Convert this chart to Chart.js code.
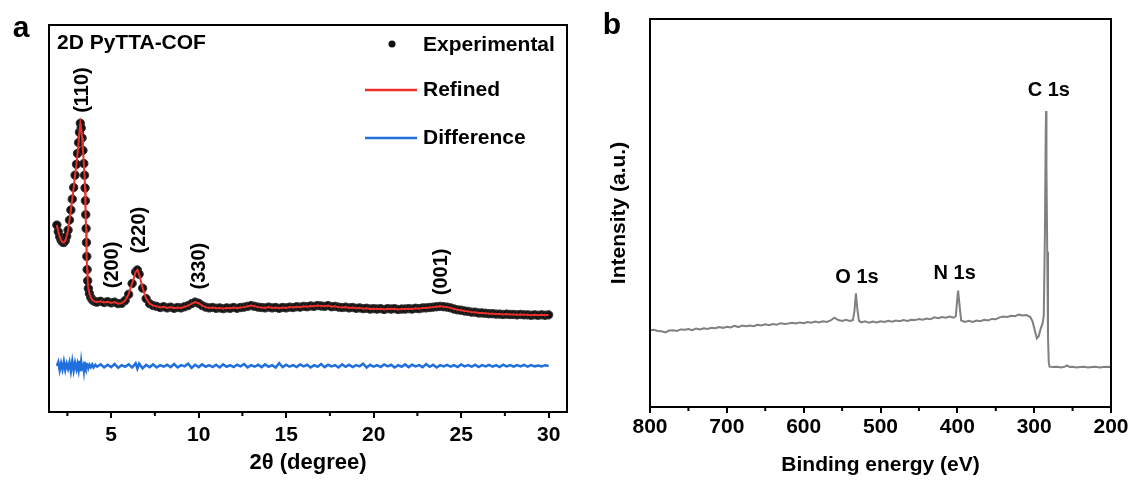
<!DOCTYPE html>
<html>
<head>
<meta charset="utf-8">
<title>2D PyTTA-COF: PXRD and XPS survey</title>
<script src="https://cdn.jsdelivr.net/npm/chart.js@4.4.1/dist/chart.umd.min.js"></script>
<style>
  html, body { margin: 0; padding: 0; background: #fff; }
  #wrap { position: relative; width: 1132px; height: 480px; }
  canvas { position: absolute; top: 0; }
  #xrd { left: 0; }
  #xps { left: 580px; }
</style>
</head>
<body>
<div id="wrap">
  <canvas id="xrd" width="580" height="480"></canvas>
  <canvas id="xps" width="552" height="480"></canvas>
</div>
<script>
// ---------- panel a: PXRD (2θ in degrees, intensity in a.u.) ----------
const xrdAngle = [
  1.90, 1.98, 2.06, 2.14, 2.22, 2.30, 2.38, 2.46, 2.54, 2.62,
  2.70, 2.78, 2.86, 2.94, 3.02, 3.08, 3.14, 3.19, 3.24, 3.29,
  3.34, 3.39, 3.44, 3.48, 3.51, 3.53, 3.55, 3.57, 3.59, 3.61,
  3.63, 3.66, 3.70, 3.76, 3.84, 3.92, 4.00, 4.10, 4.20,
  4.4, 4.6, 4.8, 5.0, 5.2, 5.4, 5.6, 5.8, 6.0, 6.2, 6.4, 6.5, 6.6,
  6.8, 7.0, 7.2, 7.4, 7.6, 7.8, 8.0, 8.2, 8.4, 8.6,
  8.8, 9.0, 9.2, 9.4, 9.6, 9.8, 10.0, 10.2, 10.4, 10.6,
  10.8, 11.0, 11.2, 11.4, 11.6, 11.8, 12.0, 12.2, 12.4, 12.6,
  12.8, 13.0, 13.2, 13.4, 13.6, 13.8, 14.0, 14.2, 14.4, 14.6,
  14.8, 15.0, 15.2, 15.4, 15.6, 15.8, 16.0, 16.2, 16.4, 16.6,
  16.8, 17.0, 17.2, 17.4, 17.6, 17.8, 18.0, 18.2, 18.4, 18.6,
  18.8, 19.0, 19.2, 19.4, 19.6, 19.8, 20.0, 20.2, 20.4, 20.6,
  20.8, 21.0, 21.2, 21.4, 21.6, 21.8, 22.0, 22.2, 22.4, 22.6,
  22.8, 23.0, 23.2, 23.4, 23.6, 23.8, 24.0, 24.2, 24.4, 24.6,
  24.8, 25.0, 25.2, 25.4, 25.6, 25.8, 26.0, 26.2, 26.4, 26.6,
  26.8, 27.0, 27.2, 27.4, 27.6, 27.8, 28.0, 28.2, 28.4, 28.6,
  28.8, 29.0, 29.2, 29.4, 29.6, 29.8, 30.0
];
const xrdIntensity = [
  48.3, 46.6, 45.3, 44.4, 43.9, 43.8, 44.3, 45.4, 47.0, 49.6,
  52.2, 55.0, 58.0, 61.2, 64.0, 66.8, 69.6, 72.3, 74.6, 73.4,
  70.8, 67.6, 64.2, 61.2, 57.9, 54.6, 51.0, 47.4, 43.8, 40.2,
  36.8, 33.9, 31.9, 30.6, 29.6, 29.0, 28.7, 28.5, 28.4,
  28.6, 28.3, 28.5, 28.2, 28.4, 28.0, 28.1, 28.8, 30.4, 33.2, 36.2, 36.7, 35.6,
  32.0, 29.3, 28.0, 27.5, 27.3, 27.0, 27.2, 26.9, 27.1, 26.8,
  27.0, 26.9, 27.2, 27.5, 28.0, 28.4, 28.1, 27.5, 27.1, 26.9,
  27.0, 26.8, 26.9, 26.7, 26.9, 26.8, 27.0, 26.8, 27.0, 27.1,
  27.3, 27.5, 27.3, 27.1, 27.0, 26.9, 27.1, 26.9, 27.0, 26.8,
  27.0, 26.9, 27.1, 27.0, 27.2, 27.1, 27.3, 27.2, 27.4, 27.3,
  27.5, 27.4, 27.3, 27.5, 27.2, 27.3, 27.1, 27.0, 27.1, 26.9,
  27.0, 26.8, 26.9, 26.7, 26.8, 26.6, 26.7, 26.6, 26.7, 26.5,
  26.7, 26.6, 26.7, 26.5, 26.6, 26.6, 26.7, 26.6, 26.8, 26.7,
  26.9, 26.9, 27.0, 27.1, 27.2, 27.3, 27.2, 27.1, 26.9, 26.6,
  26.4, 26.3, 26.1, 26.0, 25.8, 25.8, 25.6, 25.6, 25.5, 25.4,
  25.4, 25.3, 25.3, 25.2, 25.3, 25.2, 25.2, 25.1, 25.2, 25.1,
  25.1, 25.0, 25.1, 25.0, 25.1, 25.0, 25.1
];
// residual (observed - refined), offset below the pattern
const xrdDiff = [
  11.9, 12.9, 10.8, 12.6, 11.0, 13.0, 10.9, 12.5, 11.2, 12.8,
  10.6, 13.1, 10.7, 12.7, 11.1, 12.4, 10.9, 13.2, 10.5, 12.9,
  11.0, 12.6, 10.8, 13.0, 11.2, 12.5, 10.9, 12.7, 11.3, 12.3,
  11.5, 12.4, 11.4, 12.2, 11.6, 12.3, 11.5, 12.2, 11.7,
  12.3, 11.5, 12.2, 11.6, 12.4, 11.4, 12.1, 11.7, 12.3, 11.5, 12.6, 11.2, 12.5,
  11.3, 12.2, 11.6, 12.3, 11.5, 12.1, 11.7, 12.2, 11.6, 12.4,
  11.5, 12.1, 11.8, 12.5, 11.4, 12.2, 11.6, 12.3, 11.7, 12.1,
  11.6, 12.2, 11.5, 12.3, 11.7, 12.1, 11.6, 12.2, 11.8, 12.4,
  11.5, 12.1, 11.7, 12.2, 11.6, 12.3, 11.7, 12.1, 11.5, 12.6,
  11.6, 12.2, 11.7, 12.1, 11.6, 12.3, 11.8, 12.2, 11.5, 12.1,
  11.7, 12.4, 11.6, 12.2, 11.8, 12.1, 11.5, 12.3, 11.7, 12.2,
  11.6, 12.1, 11.8, 12.5, 11.5, 12.2, 11.7, 12.1, 11.6, 12.3,
  11.8, 12.2, 11.5, 12.1, 11.7, 12.3, 11.6, 12.2, 11.8, 12.1,
  11.6, 12.4, 11.7, 12.2, 11.5, 12.1, 11.8, 12.2, 11.7, 12.1,
  11.6, 12.3, 11.8, 12.1, 11.7, 12.2, 11.6, 12.1, 11.8, 12.2,
  11.7, 12.1, 11.6, 12.2, 11.8, 12.1, 11.7, 12.1, 11.8, 12.2,
  11.7, 12.1, 11.8, 12.0, 11.8, 12.1, 11.9
];
const xrdTicks = [5, 10, 15, 20, 25, 30];
const xrdMinorTicks = [2.5, 7.5, 12.5, 17.5, 22.5, 27.5];
const xrdPeakLabels = ["(110)", "(200)", "(220)", "(330)", "(001)"];
const xrdPeakAt = [3.34, 5.06, 6.6, 10.03, 23.9];
const xrdPeakHeight = [83.2, 38.0, 47.0, 37.7, 36.2];

// ---------- panel b: XPS survey (binding energy in eV) ----------
const xpsEnergy = [
  800, 795, 790, 785, 780, 775, 770, 765, 760, 755,
  750, 745, 740, 735, 730, 725, 720, 715, 710, 705,
  700, 695, 690, 685, 680, 675, 670, 665, 660, 655,
  650, 645, 640, 635, 630, 625, 620, 615, 610, 605,
  600, 595, 590, 585, 580, 575, 570, 565, 560, 555,
  550, 545, 540, 536, 534, 532, 530, 528, 525, 520,
  515, 510, 505, 500, 495, 490, 485, 480, 475, 470,
  465, 460, 455, 450, 445, 440, 435, 430, 425, 420,
  415, 410, 405, 402, 400, 399, 397, 395, 390, 385,
  380, 375, 370, 365, 360, 355, 350, 345, 340, 335,
  330, 325, 320, 315, 310, 305, 302, 299, 296.5, 294,
  291.5, 289, 287.5, 286, 285, 284.5, 284, 283, 282, 281,
  280, 275, 270, 265, 260, 257, 254, 250, 245, 240,
  235, 230, 225, 220, 215, 210, 205, 200
];
const xpsCounts = [
  19.8, 19.9, 19.6, 19.5, 19.2, 19.7, 19.8, 19.6, 20.0, 19.9,
  20.1, 19.8, 20.2, 20.0, 20.3, 20.1, 20.4, 20.3, 20.6, 20.4,
  20.7, 20.5, 20.9, 20.6, 21.0, 20.8, 21.0, 20.8, 21.2, 21.0,
  21.3, 21.1, 21.4, 21.2, 21.6, 21.4, 21.5, 21.7, 21.5, 21.8,
  21.6, 21.9, 21.7, 22.0, 21.8, 22.1, 21.9, 22.3, 23.0, 22.4,
  22.2, 22.5, 22.2, 22.4, 24.5, 29.3, 25.0, 22.2, 21.8, 22.1,
  21.7, 22.0, 21.8, 22.1, 21.9, 22.2, 22.0, 22.3, 22.1, 22.4,
  22.2, 22.5, 22.4, 22.7, 22.5, 22.8, 22.6, 23.1, 22.9, 23.2,
  23.0, 23.3, 23.0, 23.4, 28.0, 30.0, 26.0, 22.3, 21.9, 22.2,
  21.9, 22.3, 22.1, 22.5, 22.3, 22.7, 22.6, 23.1, 23.3, 23.2,
  23.5, 23.4, 23.8, 23.6, 23.7, 23.2, 22.0, 19.6, 17.7, 18.3,
  20.2, 21.6, 23.5, 45.0, 70.0, 76.3, 62.0, 40.0, 18.0, 11.5,
  10.4, 10.3, 10.4, 10.2, 10.4, 10.7, 10.3, 10.4, 10.2, 10.3,
  10.4, 10.2, 10.3, 10.4, 10.2, 10.3, 10.4, 10.3
];
const xpsTicks = [800, 700, 600, 500, 400, 300, 200];
const xpsMinorTicks = [750, 650, 550, 450, 350, 250];
const xpsPeakLabels = ["O 1s", "N 1s", "C 1s"];
const xpsPeakAt = [530.6, 403.4, 281];
const xpsPeakHeight = [33.5, 34.5, 81.7];

const FONT = "'Liberation Sans', Arial, Helvetica, sans-serif";
const boldFont = (size) => ({ family: FONT, size, weight: "bold" });
const pairs = (xs, ys) => xs.map((x, i) => ({ x, y: ys[i] }));

// box round the plot area + short minor ticks on the bottom axis
const framePlugin = {
  id: "frame",
  afterDraw(chart, args, opts) {
    const { ctx, chartArea: a, scales } = chart;
    ctx.save();
    ctx.strokeStyle = "#000";
    ctx.lineWidth = 2;
    ctx.strokeRect(a.left, a.top, a.right - a.left, a.bottom - a.top);
    ctx.beginPath();
    (opts.minor || []).forEach((v) => {
      const x = scales.x.getPixelForValue(v);
      ctx.moveTo(x, a.bottom);
      ctx.lineTo(x, a.bottom + 4);
    });
    ctx.stroke();
    ctx.restore();
  },
};

// peak assignments, panel letter and sample name
const notesPlugin = {
  id: "notes",
  afterDatasetsDraw(chart, args, opts) {
    const { ctx, chartArea: a, scales } = chart;
    ctx.save();
    ctx.fillStyle = "#000";
    ctx.font = `bold 20px ${FONT}`;
    ctx.textAlign = "center";
    ctx.textBaseline = "middle";
    opts.labels.forEach((t, i) => {
      const px = scales.x.getPixelForValue(opts.at[i]);
      const py = scales.y.getPixelForValue(opts.height[i]);
      ctx.save();
      ctx.translate(px, py);
      if (opts.rotate) ctx.rotate(-Math.PI / 2);
      ctx.fillText(t, 0, 0);
      ctx.restore();
    });
    if (opts.sample) {
      ctx.font = `bold 21px ${FONT}`;
      ctx.textAlign = "left";
      ctx.fillText(opts.sample, a.left + 8, a.top + 18);
    }
    ctx.font = `bold 30px ${FONT}`;
    ctx.textAlign = "center";
    ctx.fillText(opts.panel.text, opts.panel.x, opts.panel.y);
    ctx.restore();
  },
};

// legend drawn inside the top-right of the plot
const insetLegend = {
  id: "insetLegend",
  afterDraw(chart, args, opts) {
    const { ctx, chartArea: a } = chart;
    const sets = chart.data.datasets;
    ctx.save();
    ctx.font = `bold 21px ${FONT}`;
    ctx.textBaseline = "middle";
    ctx.textAlign = "left";
    opts.items.forEach((name, i) => {
      const ds = sets.find((d) => d.label === name);
      const y = a.top + opts.rows[i];
      if (ds.showLine) {
        ctx.strokeStyle = ds.borderColor;
        ctx.lineWidth = 2.5;
        ctx.beginPath();
        ctx.moveTo(a.left + opts.lineFrom, y);
        ctx.lineTo(a.left + opts.lineTo, y);
        ctx.stroke();
      } else {
        ctx.fillStyle = ds.pointBackgroundColor;
        ctx.beginPath();
        ctx.arc(a.left + opts.dotX, y - 1, 3.5, 0, Math.PI * 2);
        ctx.fill();
      }
      ctx.fillStyle = "#000";
      ctx.fillText(name, a.left + opts.textX, y);
    });
    ctx.restore();
  },
};

new Chart(document.getElementById("xrd"), {
  type: "scatter",
  data: {
    datasets: [
      {
        label: "Refined",
        data: pairs(xrdAngle, xrdIntensity),
        showLine: true,
        borderColor: "#ec2f2b",
        borderWidth: 2,
        pointRadius: 0,
      },
      {
        label: "Difference",
        data: pairs(xrdAngle, xrdDiff),
        showLine: true,
        borderColor: "#1f6fdd",
        borderWidth: 2.5,
        pointRadius: 0,
      },
      {
        label: "Experimental",
        data: pairs(xrdAngle, xrdIntensity),
        showLine: false,
        pointRadius: 4.2,
        pointBackgroundColor: "#111",
        pointBorderColor: "#333",
        pointBorderWidth: 1,
      },
    ],
  },
  options: {
    responsive: false,
    animation: false,
    events: [],
    layout: { padding: { left: 49, right: 13, top: 25, bottom: 0 } },
    plugins: {
      legend: { display: false },
      tooltip: { enabled: false },
      frame: { minor: xrdMinorTicks },
      notes: {
        labels: xrdPeakLabels, at: xrdPeakAt, height: xrdPeakHeight, rotate: true,
        sample: "2D PyTTA-COF",
        panel: { text: "a", x: 21, y: 29 },
      },
      insetLegend: {
        items: ["Experimental", "Refined", "Difference"],
        rows: [20, 65, 113],
        dotX: 343, lineFrom: 316, lineTo: 368, textX: 374,
      },
    },
    scales: {
      x: {
        type: "linear",
        min: 1.45,
        max: 31.05,
        afterBuildTicks: (s) => { s.ticks = xrdTicks.map((v) => ({ value: v })); },
        afterFit: (s) => { s.height = 68; },
        border: { display: false },
        grid: { drawOnChartArea: false, tickLength: 6, lineWidth: 2, color: "#000" },
        ticks: { color: "#000", font: boldFont(21), padding: 5, maxRotation: 0, autoSkip: false },
        title: {
          display: true, text: "2θ (degree)", color: "#000",
          font: boldFont(22), padding: { top: 0, bottom: 4 },
        },
      },
      y: { display: false, min: 0, max: 100 },
    },
  },
  plugins: [framePlugin, notesPlugin, insetLegend],
});

new Chart(document.getElementById("xps"), {
  type: "scatter",
  data: {
    datasets: [
      {
        label: "Survey",
        data: pairs(xpsEnergy, xpsCounts),
        showLine: true,
        borderColor: "#808080",
        borderWidth: 2,
        pointRadius: 0,
      },
    ],
  },
  options: {
    responsive: false,
    animation: false,
    events: [],
    layout: { padding: { left: 0, right: 21, top: 19, bottom: 0 } },
    plugins: {
      legend: { display: false },
      tooltip: { enabled: false },
      frame: { minor: xpsMinorTicks },
      notes: {
        labels: xpsPeakLabels, at: xpsPeakAt, height: xpsPeakHeight, rotate: false,
        panel: { text: "b", x: 32, y: 26 },
      },
    },
    scales: {
      x: {
        type: "linear",
        reverse: true,
        min: 200,
        max: 800,
        afterBuildTicks: (s) => { s.ticks = xpsTicks.map((v) => ({ value: v })); },
        afterFit: (s) => { s.height = 73; },
        border: { display: false },
        grid: { drawOnChartArea: false, tickLength: 6, lineWidth: 2, color: "#000" },
        ticks: { color: "#000", font: boldFont(21), padding: 2, maxRotation: 0, autoSkip: false },
        title: {
          display: true, text: "Binding energy (eV)", color: "#000",
          font: boldFont(21), padding: { top: 0, bottom: 2 },
        },
      },
      y: {
        min: 0,
        max: 100,
        afterFit: (s) => { s.width = 70; },
        ticks: { display: false },
        grid: { display: false },
        border: { display: false },
        title: {
          display: true, text: "Intensity (a.u.)", color: "#000",
          font: boldFont(21), padding: { top: 27, bottom: 0 },
        },
      },
    },
  },
  plugins: [framePlugin, notesPlugin],
});
</script>
</body>
</html>
